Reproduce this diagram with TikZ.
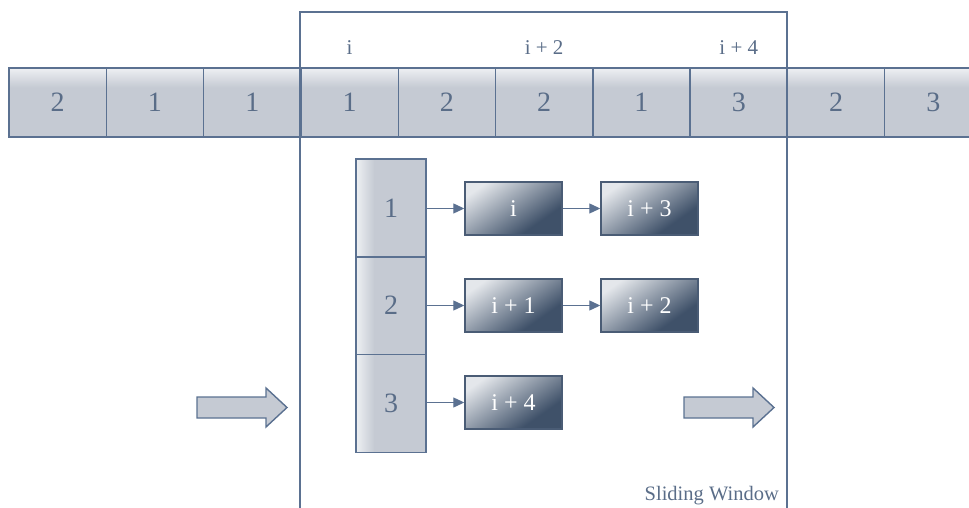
\documentclass[tikz,border=0pt]{standalone}
\usepackage{fontspec}
\setmainfont{Liberation Serif}
\usetikzlibrary{arrows.meta}
\definecolor{linec}{HTML}{5B7191}
\definecolor{textc}{HTML}{5A6D88}
\definecolor{cellg}{HTML}{C5CAD3}
\definecolor{celll}{HTML}{EEF0F3}
\definecolor{dk}{HTML}{3F5169}
\definecolor{dlight}{HTML}{E4E7EB}
\definecolor{dborder}{HTML}{4A5C75}
\pgfdeclareverticalshading{cellshade}{100bp}{color(0bp)=(cellg); color(25bp)=(cellg); color(61bp)=(cellg); color(75bp)=(celll); color(100bp)=(celll)}
\pgfdeclarehorizontalshading{colshade}{100bp}{color(0bp)=(celll); color(25bp)=(celll); color(38bp)=(cellg); color(75bp)=(cellg); color(100bp)=(cellg)}
\pgfdeclareverticalshading{darkshade}{100bp}{color(0bp)=(dk); color(32bp)=(dk); color(76bp)=(dlight); color(100bp)=(dlight)}
\tikzset{
  cell/.style={draw=linec, line width=1.4bp, shading=cellshade, minimum width=97.3bp, minimum height=69bp, inner sep=0pt, text=textc, font=\fontsize{28bp}{30bp}\selectfont},
  colcell/.style={draw=linec, line width=1.4bp, shading=colshade, minimum width=70bp, minimum height=97.7bp, inner sep=0pt, text=textc, font=\fontsize{28bp}{30bp}\selectfont},
  darkbox/.style={draw=dborder, line width=1.4bp, shading=darkshade, shading angle=35, minimum width=97bp, minimum height=53bp, inner sep=0pt, text=white, font=\fontsize{24bp}{27bp}\selectfont},
  idx/.style={text=textc, inner sep=0pt, font=\fontsize{21bp}{23bp}\selectfont},
  link/.style={draw=linec, line width=1.1bp, -{Triangle[length=11bp,width=10bp]}},
  blockarrow/.style={draw=linec, line width=1.4bp, fill=cellg},
  window/.style={draw=linec, line width=2bp}
}
\begin{document}
\begin{tikzpicture}[x=1bp,y=-1bp]
\useasboundingbox (0,0) rectangle (969,508);
% top array
\node[cell] (t1) at (57.65,102.5) {2};
\node[cell] (t2) at (154.95,102.5) {1};
\node[cell] (t3) at (252.25,102.5) {1};
\node[cell] (t4) at (349.55,102.5) {1};
\node[cell] (t5) at (446.85,102.5) {2};
\node[cell] (t6) at (544.15,102.5) {2};
\node[cell] (t7) at (641.45,102.5) {1};
\node[cell] (t8) at (738.75,102.5) {3};
\node[cell] (t9) at (836.05,102.5) {2};
\node[cell] (t10) at (933.35,102.5) {3};
% window
\coordinate (wl) at (300,508);
\coordinate (wr) at (787,508);
\draw[window] (wl) |- (787,12) -- (wr);
% index labels
\node[idx] (l1) at (349.55,48) {i};
\node[idx] (l2) at (544.15,48) {i + 2};
\node[idx] (l3) at (738.75,48) {i + 4};
% column
\node[colcell] (c1) at (391,208) {1};
\node[colcell] (c2) at (391,305.7) {2};
\node[colcell] (c3) at (391,403.4) {3};
% dark boxes
\node[darkbox] (d1) at (513.5,208.5) {i};
\node[darkbox] (d2) at (649.5,208.5) {i + 3};
\node[darkbox] (d3) at (513.5,305.5) {i + 1};
\node[darkbox] (d4) at (649.5,305.5) {i + 2};
\node[darkbox] (d5) at (513.5,402.5) {i + 4};
% links
\draw[link] (c1.east |- d1.west) -- (d1.west);
\draw[link] (d1) -- (d2);
\draw[link] (c2.east |- d3.west) -- (d3.west);
\draw[link] (d3) -- (d4);
\draw[link] (c3.east |- d5.west) -- (d5.west);
% block arrows
\draw[blockarrow] (197,397) -- (266,397) -- (266,388) -- (287,407.5) -- (266,427) -- (266,418) -- (197,418) -- cycle;
\draw[blockarrow] (684,397) -- (753,397) -- (753,388) -- (774,407.5) -- (753,427) -- (753,418) -- (684,418) -- cycle;
% caption
\node[text=textc, anchor=base east, inner sep=0pt, font=\fontsize{20.5bp}{22bp}\selectfont] (cap) at (779,500) {Sliding Window};
\end{tikzpicture}
\end{document}
